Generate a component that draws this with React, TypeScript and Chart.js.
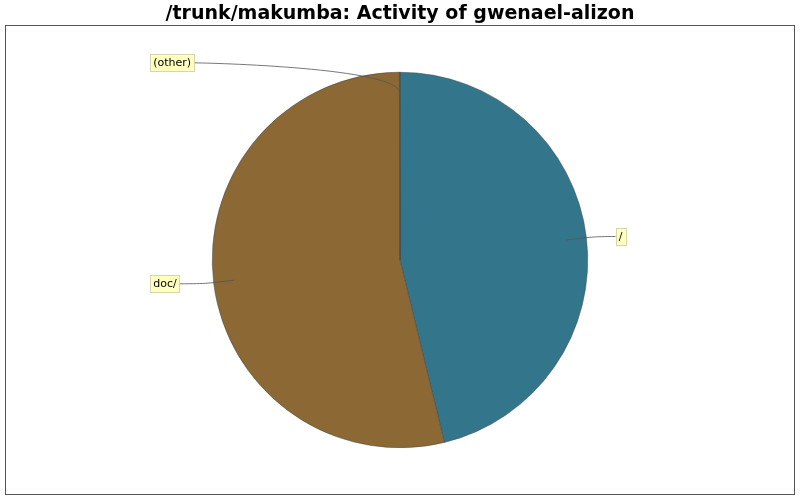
import { useEffect, useRef } from "react"
import Chart from "chart.js/auto"

const title = "/trunk/makumba: Activity of gwenael-alizon"
const sliceLabels = ["/", "doc/", "(other)"]
const sliceValues = [46.2, 53.75, 0.05]
const sliceColors = ["rgb(51, 118, 140)", "rgb(139, 104, 52)", "rgb(120, 100, 60)"]

const FONT = "'DejaVu Sans', 'Liberation Sans', sans-serif"

// border, title and the JFreeChart-style labels with their curved links
const decorations = {
  id: "decorations",
  beforeDraw(chart: Chart) {
    const ctx = chart.ctx
    ctx.save()
    ctx.fillStyle = "#ffffff"
    ctx.fillRect(0, 0, chart.width, chart.height)
    ctx.strokeStyle = "#555555"
    ctx.lineWidth = 1
    ctx.strokeRect(5.5, 25.5, 789, 469)
    ctx.fillStyle = "#000000"
    ctx.font = `bold 19px ${FONT}`
    ctx.textAlign = "center"
    ctx.textBaseline = "alphabetic"
    ctx.fillText(title, 400, 19)
    ctx.restore()
  },
  afterDatasetsDraw(chart: Chart) {
    const ctx = chart.ctx
    const arcs = chart.getDatasetMeta(0).data as any[]
    ctx.save()
    ctx.font = `11px ${FONT}`
    ctx.textBaseline = "middle"
    arcs.forEach((arc, i) => {
      const { x: cx, y: cy, startAngle, endAngle, outerRadius: r } = arc
      const mid = (startAngle + endAngle) / 2
      const c = Math.cos(mid)
      const s = Math.sin(mid)
      const right = c >= 0
      const text = sliceLabels[i]
      const w = ctx.measureText(text).width + 6
      const h = 17
      const ly = cy + 1.05 * r * s
      const bx = right ? cx + r + 28 : cx - r - 62
      // link
      const tx = right ? bx : bx + w
      const ax = right ? cx + 1.025 * r : cx - 1.025 * r
      ctx.strokeStyle = "#555555"
      ctx.lineWidth = 0.8
      ctx.beginPath()
      ctx.moveTo(tx, ly)
      ctx.bezierCurveTo(ax, ly, cx + 1.025 * r * c, cy + 1.025 * r * s, cx + 0.89 * r * c, cy + 0.89 * r * s)
      ctx.stroke()
      // box
      ctx.fillStyle = "#ffffc0"
      ctx.fillRect(bx, ly - h / 2, w, h)
      ctx.strokeStyle = "#d6d6a8"
      ctx.lineWidth = 1
      ctx.strokeRect(Math.round(bx) + 0.5, Math.round(ly - h / 2) + 0.5, Math.round(w), h)
      ctx.fillStyle = "#000000"
      ctx.textAlign = "left"
      ctx.fillText(text, bx + 3, ly + 0.5)
    })
    ctx.restore()
  },
}

export default function App() {
  const canvasRef = useRef<HTMLCanvasElement>(null)
  const chartRef = useRef<Chart | null>(null)

  useEffect(() => {
    if (!canvasRef.current) return
    document.body.style.margin = "0"
    if (chartRef.current) chartRef.current.destroy()

    chartRef.current = new Chart(canvasRef.current, {
      type: "pie",
      data: {
        labels: sliceLabels,
        datasets: [
          {
            data: sliceValues,
            backgroundColor: sliceColors,
            borderColor: "#444444",
            borderWidth: 0.5,
          },
        ],
      },
      options: {
        responsive: false,
        animation: false,
        layout: { padding: { top: 72, bottom: 52, left: 212, right: 212 } },
        plugins: {
          legend: { display: false },
          title: { display: false },
          tooltip: { enabled: false },
        },
      },
      plugins: [decorations],
    })

    return () => {
      if (chartRef.current) {
        chartRef.current.destroy()
        chartRef.current = null
      }
    }
  }, [])

  return (
    <div style={{ width: 800, height: 500 }}>
      <canvas ref={canvasRef} width={800} height={500}></canvas>
    </div>
  )
}
